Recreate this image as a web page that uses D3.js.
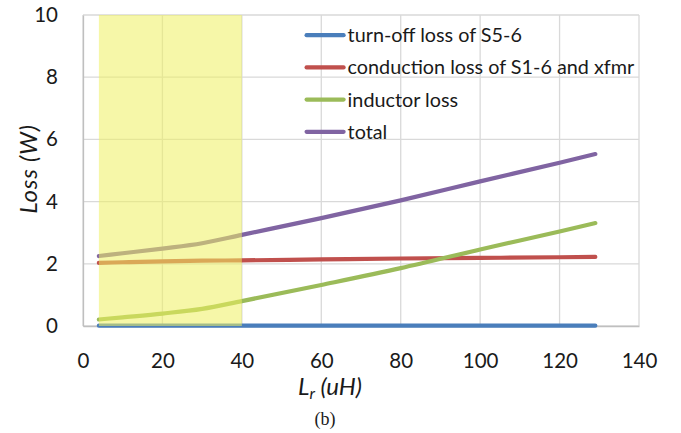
<!DOCTYPE html>
<html>
<head>
<meta charset="utf-8">
<script src="https://cdn.jsdelivr.net/npm/d3@7"></script>
<style>
  body { margin: 0; background: #fff; }
  svg text { font-family: Lato, "Open Sans", sans-serif; fill: #1a1a1a; }
</style>
</head>
<body>
<div id="chart"></div>
<script>
const inductance = [4, 10, 20, 30, 40, 60, 80, 100, 120, 129];
const turnOffLoss = [0.01, 0.01, 0.01, 0.01, 0.01, 0.01, 0.01, 0.01, 0.01, 0.01];
const conductionLoss = [2.03, 2.05, 2.08, 2.10, 2.11, 2.14, 2.17, 2.19, 2.21, 2.22];
const inductorLoss = [0.21, 0.28, 0.40, 0.55, 0.80, 1.32, 1.86, 2.46, 3.04, 3.31];
const totalLoss = [2.25, 2.34, 2.49, 2.66, 2.93, 3.47, 4.04, 4.65, 5.25, 5.53];
const seriesNames = ['turn-off loss of S5-6', 'conduction loss of S1-6 and xfmr', 'inductor loss', 'total'];
const xTicks = [0, 20, 40, 60, 80, 100, 120, 140];
const yTicks = [0, 2, 4, 6, 8, 10];
const highlight = [4, 40];

const colors = ['#4a7ebb', '#c0504d', '#9bbb59', '#8064a2'];
const seriesValues = [turnOffLoss, conductionLoss, inductorLoss, totalLoss];

const W = 681, H = 433;
const margin = { top: 15, right: 42, bottom: 107, left: 83 };
const width = W - margin.left - margin.right;
const height = H - margin.top - margin.bottom;

const svg = d3.select('#chart').append('svg')
  .attr('width', W).attr('height', H);

const g = svg.append('g')
  .attr('transform', `translate(${margin.left},${margin.top})`);

const x = d3.scaleLinear().domain([0, 140]).range([0, width]);
const y = d3.scaleLinear().domain([0, 10]).range([height, 0]);

// gridlines
g.selectAll('.vgrid').data(xTicks).join('line')
  .attr('x1', d => x(d)).attr('x2', d => x(d))
  .attr('y1', 0).attr('y2', height)
  .attr('stroke', '#d9d9d9').attr('stroke-width', 1.3);
g.selectAll('.hgrid').data(yTicks).join('line')
  .attr('x1', 0).attr('x2', width)
  .attr('y1', d => y(d)).attr('y2', d => y(d))
  .attr('stroke', '#d9d9d9').attr('stroke-width', 1.3);

// axes
const xAxis = g.append('g')
  .attr('transform', `translate(0,${height})`)
  .call(d3.axisBottom(x).tickValues(xTicks).tickSize(0).tickPadding(27));
const yAxis = g.append('g')
  .call(d3.axisLeft(y).tickValues(yTicks).tickSize(0).tickPadding(25));
[xAxis, yAxis].forEach(a => {
  a.select('.domain').attr('stroke', '#bfbfbf').attr('stroke-width', 1.3);
  a.selectAll('text').attr('font-size', 20.5).attr('font-family', 'Lato, sans-serif').attr('fill', '#1a1a1a');
});

// lines
const line = d3.line()
  .x((d, i) => x(inductance[i]))
  .y(d => y(d))
  .curve(d3.curveMonotoneX);

seriesValues.forEach((vals, k) => {
  g.append('path')
    .datum(vals)
    .attr('fill', 'none')
    .attr('stroke', colors[k])
    .attr('stroke-width', 4.2)
    .attr('stroke-linecap', 'round')
    .attr('d', line);
});

// highlighted region (drawn over the lines)
g.append('rect')
  .attr('x', x(highlight[0]))
  .attr('y', 0)
  .attr('width', x(highlight[1]) - x(highlight[0]))
  .attr('height', height)
  .attr('fill', '#eef060')
  .attr('opacity', 0.55);

// legend
const legend = g.append('g').attr('transform', `translate(${x(56.3)},${y(9.35)})`);
seriesNames.forEach((name, k) => {
  const row = legend.append('g').attr('transform', `translate(0,${k * 32.2})`);
  row.append('line')
    .attr('x1', 0).attr('x2', 37)
    .attr('stroke', colors[k]).attr('stroke-width', 4.2)
    .attr('stroke-linecap', 'round');
  row.append('text')
    .attr('x', 41).attr('y', 7)
    .attr('font-size', 19.8)
    .text(name);
});

// axis titles
const xt = svg.append('text')
  .attr('x', 330).attr('y', 395)
  .attr('text-anchor', 'middle')
  .attr('font-size', 24).attr('font-style', 'italic');
xt.append('tspan').text('L');
xt.append('tspan').attr('font-size', 16).attr('dy', 4).text('r');
xt.append('tspan').attr('dy', -4).text(' (uH)');

svg.append('text')
  .attr('transform', 'translate(37,169) rotate(-90)')
  .attr('text-anchor', 'middle')
  .attr('font-size', 24).attr('font-style', 'italic')
  .attr('letter-spacing', 0.8)
  .text('Loss (W)');

svg.append('text')
  .attr('x', 325).attr('y', 425)
  .attr('text-anchor', 'middle')
  .attr('font-size', 18)
  .style('font-family', '"Liberation Serif", serif')
  .text('(b)');
</script>
</body>
</html>
